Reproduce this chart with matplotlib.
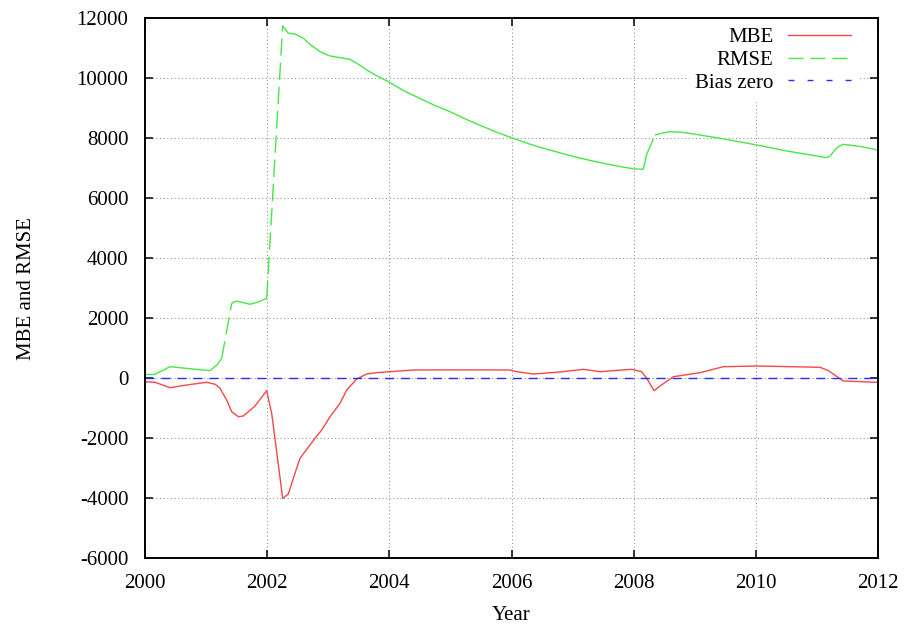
import numpy as np
import matplotlib
matplotlib.use("Agg")
import matplotlib.pyplot as plt
from matplotlib.collections import LineCollection
from matplotlib.lines import Line2D

plt.rcParams['font.family'] = ['Liberation Serif', 'DejaVu Serif']
plt.rcParams['font.size'] = 15

# ---- data -------------------------------------------------------------
mbe_year = [2000.0, 2000.164, 2000.409, 2000.683, 2001.01, 2001.15, 2001.228,
            2001.337, 2001.419, 2001.527, 2001.609, 2001.801, 2001.992, 2002.074,
            2002.254, 2002.346, 2002.45, 2002.538, 2002.783, 2002.893, 2003.029,
            2003.193, 2003.302, 2003.466, 2003.63, 2003.8, 2004.011, 2004.393,
            2005.0, 2005.5, 2005.976, 2006.086, 2006.357, 2006.794, 2007.176,
            2007.449, 2007.968, 2008.13, 2008.214, 2008.333, 2008.45, 2008.649,
            2009.086, 2009.468, 2010.015, 2011.05, 2011.19, 2011.43, 2011.98, 2012.0]
mbe_value = [-113, -133, -313, -223, -133, -200, -333,
             -723, -1113, -1280, -1257, -923, -413, -1167,
             -4000, -3857, -3200, -2667, -2000, -1723, -1280,
             -833, -390, -23, 143, 190, 220, 277,
             280, 280, 277, 220, 143, 210, 300,
             220, 300, 220, 0, -413, -230, 53,
             187, 387, 410, 367, 253, -90, -133, -135]

rmse_year = [2000.0, 2000.164, 2000.409, 2001.064, 2001.18, 2001.256, 2001.419,
             2001.501, 2001.719, 2001.85, 2001.992, 2002.254, 2002.346, 2002.456,
             2002.592, 2002.70, 2002.865, 2003.02, 2003.193, 2003.356, 2003.50,
             2003.63, 2003.80, 2003.984, 2004.25, 2004.5, 2004.75, 2005.0,
             2005.25, 2005.5, 2005.75, 2006.0, 2006.25, 2006.5, 2006.75,
             2007.0, 2007.25, 2007.5, 2007.75, 2008.0, 2008.158, 2008.21,
             2008.35, 2008.459, 2008.595, 2008.8, 2009.086, 2009.5, 2010.015,
             2010.5, 2011.0, 2011.16, 2011.22, 2011.27, 2011.35, 2011.43,
             2011.7, 2012.0]
rmse_value = [133, 133, 387, 253, 450, 667, 2500,
              2577, 2467, 2540, 2667, 11753, 11500, 11477,
              11333, 11130, 10887, 10750, 10687, 10633, 10460,
              10277, 10080, 9887, 9570, 9330, 9090, 8880,
              8640, 8420, 8210, 8020, 7840, 7680, 7540,
              7400, 7280, 7170, 7070, 6980, 6967, 7450,
              8110, 8167, 8220, 8200, 8110, 7970, 7777,
              7580, 7410, 7353, 7420, 7553, 7720, 7800,
              7730, 7610]

bias_year = [2000, 2012]
bias_value = [0, 0]

x_ticks = [2000, 2002, 2004, 2006, 2008, 2010, 2012]
y_ticks = [-6000, -4000, -2000, 0, 2000, 4000, 6000, 8000, 10000, 12000]

# ---- style ------------------------------------------------------------
RED = '#f54848'
GREEN = '#44e844'
BLUE = '#2a2aff'
GREEN_DASH = (0, (12.5, 5.0))
BLUE_DASH = (0, (6.5, 5.0))

fig = plt.figure(figsize=(9.06, 6.26), dpi=100)
ax = fig.add_axes([145 / 906, 1 - 558.3 / 626, 733 / 906, 540 / 626])

# MBE: solid red line
mbe_line, = ax.plot(mbe_year, mbe_value, color=RED, lw=1.0, zorder=3)

# RMSE: dash pattern restarts on every segment, so only the long steep
# segments show visible dashes
ry = np.asarray(rmse_year, dtype=float)
rv = np.asarray(rmse_value, dtype=float)
pts = np.column_stack([ry, rv])
segs = np.stack([pts[:-1], pts[1:]], axis=1)
slope = np.abs(np.diff(rv) / np.diff(ry))
styles = [GREEN_DASH if s > 4000 else 'solid' for s in slope]
lc = LineCollection(segs, colors=GREEN, linewidths=1.0, linestyles=styles, zorder=3)
ax.add_collection(lc)

# zero-bias reference
ax.plot(bias_year, bias_value, color=BLUE, lw=1.0, linestyle=BLUE_DASH, zorder=3)

ax.set_xlim(2000, 2012)
ax.set_ylim(-6000, 12000)
ax.set_xticks(x_ticks)
ax.set_yticks(y_ticks)
ax.set_xticklabels([str(t) for t in x_ticks])
ax.set_yticklabels([str(t) for t in y_ticks])

ax.grid(True, color='#8c8c8c', lw=0.75, linestyle=(0, (1, 2.5)))
ax.set_axisbelow(True)

for sp in ax.spines.values():
    sp.set_linewidth(1.4)
    sp.set_color('black')
    sp.set_zorder(6)

ax.tick_params(axis='both', which='major', direction='in', length=5.5, width=1.1,
               top=True, right=True, labelsize=15, colors='black')
ax.tick_params(axis='x', pad=11)
ax.tick_params(axis='y', pad=12)

ax.set_xlabel('Year', fontsize=15)
ax.set_ylabel('MBE and RMSE', fontsize=15)
ax.xaxis.set_label_coords(0.5, -(606 - 558.3) / 540)
ax.yaxis.set_label_coords((36 - 145) / 733, 0.5)

handles = [
    Line2D([], [], color=RED, lw=1.0),
    Line2D([], [], color=GREEN, lw=1.0, linestyle=(0, (10.8, 5.0))),
    Line2D([], [], color=BLUE, lw=1.0, linestyle=(0, (4.3, 9.4))),
]
leg = ax.legend(handles, ['MBE', 'RMSE', 'Bias zero'], loc='upper right',
                bbox_to_anchor=((860 - 145) / 733, 1.0), borderaxespad=0,
                markerfirst=False, frameon=True, fancybox=False,
                framealpha=1.0, facecolor='white', edgecolor='none',
                handlelength=3.0, handletextpad=0.7, labelspacing=0.15,
                borderpad=0.45, fontsize=15)
leg.set_zorder(5)

fig.savefig('out.png', dpi=100)
